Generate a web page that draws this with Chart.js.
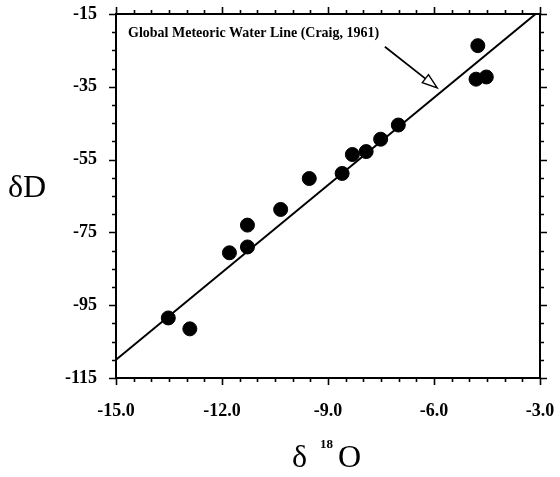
<!DOCTYPE html>
<html>
<head>
<meta charset="utf-8">
<script src="https://cdn.jsdelivr.net/npm/chart.js@4.4.1/dist/chart.umd.min.js"></script>
<style>
  html, body { margin: 0; padding: 0; background: #fff; }
  #wrap { width: 560px; height: 477px; }
</style>
</head>
<body>
<div id="wrap"><canvas id="c" width="560" height="477"></canvas></div>
<script>
// Isotope samples: oxygen-18 vs deuterium (per mil)
const d18O = [-13.52, -12.91, -11.79, -11.28, -11.28, -10.34, -9.53, -8.60, -8.31, -7.92, -7.51, -7.01, -4.76, -4.81, -4.52];
const dD   = [-98.5, -101.5, -80.6, -79.0, -73.0, -68.7, -60.2, -58.8, -53.6, -52.8, -49.4, -45.5, -23.7, -32.9, -32.3];

// Global Meteoric Water Line end points (dD = 8 d18O + 10), clipped to the frame
const gmwlX = [-15, -3.125];
const gmwlY = [-110, -15];

// Axis ranges and labelled tick values
const xRange = [-15, -3];
const yRange = [-115, -15];
const xLabels = [-15, -12, -9, -6, -3];
const yLabels = [-115, -95, -75, -55, -35, -15];

const lineLabel = 'Global Meteoric Water Line (Craig, 1961)';
const labelAt = [-14.66, -20.4];
const arrowFrom = [-7.39, -24.0];
const arrowTo = [-5.91, -35.3];

const serif = '"Liberation Serif", "Times New Roman", serif';

const framePlugin = {
  id: 'frame',
  afterDraw(chart) {
    const ctx = chart.ctx;
    const a = chart.chartArea;
    const xs = chart.scales.x, ys = chart.scales.y;
    ctx.save();
    ctx.strokeStyle = '#000';
    ctx.lineWidth = 2;
    ctx.strokeRect(a.left, a.top, a.right - a.left, a.bottom - a.top);
    ctx.lineWidth = 1.6;
    ctx.beginPath();
    xs.ticks.forEach(t => {
      const px = Math.round(xs.getPixelForValue(t.value)) + 0.5;
      const major = xLabels.some(v => Math.abs(v - t.value) < 1e-6);
      const len = major ? 7 : 4;
      ctx.moveTo(px, a.bottom); ctx.lineTo(px, a.bottom + len);
      ctx.moveTo(px, a.top); ctx.lineTo(px, a.top - len);
    });
    ys.ticks.forEach(t => {
      const py = Math.round(ys.getPixelForValue(t.value)) + 0.5;
      const major = yLabels.some(v => Math.abs(v - t.value) < 1e-6);
      const len = major ? 7 : 4;
      ctx.moveTo(a.left, py); ctx.lineTo(a.left - len, py);
      ctx.moveTo(a.right, py); ctx.lineTo(a.right + len, py);
    });
    ctx.stroke();

    // line annotation and arrow
    ctx.fillStyle = '#000';
    ctx.font = 'bold 14px ' + serif;
    ctx.textBaseline = 'middle';
    ctx.textAlign = 'left';
    ctx.fillText(lineLabel, xs.getPixelForValue(labelAt[0]), ys.getPixelForValue(labelAt[1]));

    const x0 = xs.getPixelForValue(arrowFrom[0]), y0 = ys.getPixelForValue(arrowFrom[1]);
    const x1 = xs.getPixelForValue(arrowTo[0]), y1 = ys.getPixelForValue(arrowTo[1]);
    const ang = Math.atan2(y1 - y0, x1 - x0);
    const hl = 15, hw = 5;
    const bx = x1 - hl * Math.cos(ang), by = y1 - hl * Math.sin(ang);
    ctx.lineWidth = 1.8;
    ctx.beginPath();
    ctx.moveTo(x0, y0); ctx.lineTo(bx, by);
    ctx.stroke();
    ctx.beginPath();
    ctx.moveTo(x1, y1);
    ctx.lineTo(bx + hw * Math.sin(ang), by - hw * Math.cos(ang));
    ctx.lineTo(bx - hw * Math.sin(ang), by + hw * Math.cos(ang));
    ctx.closePath();
    ctx.fillStyle = '#fff';
    ctx.fill();
    ctx.lineWidth = 1.4;
    ctx.stroke();

    // axis titles
    ctx.fillStyle = '#000';
    ctx.textBaseline = 'alphabetic';
    ctx.textAlign = 'left';
    ctx.font = '32px ' + serif;
    ctx.fillText('\u03B4D', 8, 197);
    ctx.fillText('\u03B4', 292, 467);
    ctx.font = 'bold 13px ' + serif;
    ctx.fillText('18', 320, 448);
    ctx.font = '32px ' + serif;
    ctx.fillText('O', 338, 467);
    ctx.restore();
  }
};

const chart = new Chart(document.getElementById('c'), {
  type: 'scatter',
  data: {
    datasets: [
      {
        type: 'line',
        data: gmwlX.map((x, i) => ({ x, y: gmwlY[i] })),
        borderColor: '#000',
        borderWidth: 2,
        pointRadius: 0,
        fill: false
      },
      {
        data: d18O.map((x, i) => ({ x, y: dD[i] })),
        backgroundColor: '#000',
        borderColor: '#000',
        pointRadius: 7,
        pointHoverRadius: 7
      }
    ]
  },
  options: {
    responsive: false,
    animation: false,
    layout: { padding: { top: 14, right: 20, left: 0, bottom: 0 } },
    plugins: { legend: { display: false }, tooltip: { enabled: false } },
    scales: {
      x: {
        type: 'linear',
        min: xRange[0], max: xRange[1],
        grid: { display: false },
        border: { display: false },
        afterFit(s) { s.height = 99; s.paddingLeft = 0; s.paddingRight = 0; },
        ticks: {
          stepSize: 0.5,
          autoSkip: false,
          maxRotation: 0,
          padding: 15,
          color: '#000',
          font: { family: serif, size: 18, weight: 'bold' },
          callback: v => xLabels.some(l => Math.abs(l - v) < 1e-6) ? v.toFixed(1) : ''
        }
      },
      y: {
        type: 'linear',
        min: yRange[0], max: yRange[1],
        grid: { display: false },
        border: { display: false },
        afterFit(s) { s.width = 116; s.paddingTop = 0; s.paddingBottom = 0; },
        ticks: {
          stepSize: 5,
          autoSkip: false,
          padding: 11,
          color: '#000',
          font: { family: serif, size: 18, weight: 'bold' },
          callback: v => yLabels.some(l => Math.abs(l - v) < 1e-6) ? String(v) : ''
        }
      }
    }
  },
  plugins: [framePlugin]
});
</script>
</body>
</html>
